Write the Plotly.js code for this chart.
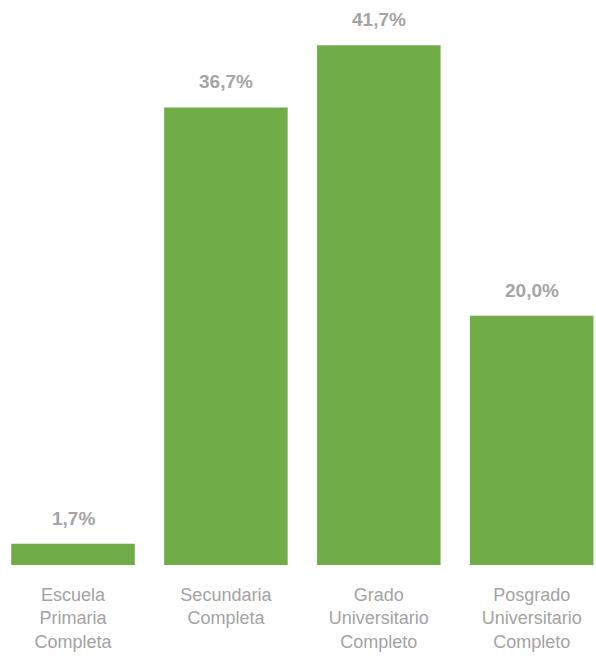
<!DOCTYPE html>
<html>
<head>
<meta charset="utf-8">
<script src="https://cdn.plot.ly/plotly-3.0.1.min.js"></script>
<style>html,body{margin:0;padding:0;background:#fff}#chart{width:596px;height:657px}</style>
</head>
<body>
<div id="chart"></div>
<script>
const categories = ["Escuela<br>Primaria<br>Completa", "Secundaria<br>Completa", "Grado<br>Universitario<br>Completo", "Posgrado<br>Universitario<br>Completo"];
const values = [1.7, 36.7, 41.7, 20.0];
const valueLabels = ["1,7%", "36,7%", "41,7%", "20,0%"];

const trace = {
  type: "bar",
  x: categories,
  y: values,
  width: 0.808,
  marker: {color: "#70AD47"},
  hoverinfo: "skip"
};

const annotations = categories.map((c, i) => ({
  x: c, y: values[i], xref: "x", yref: "y",
  text: "<b>" + valueLabels[i] + "</b>",
  showarrow: false, yanchor: "bottom", yshift: 13,
  font: {family: "Liberation Sans, Arial, sans-serif", size: 19, color: "#A5A5A5"}
}));

const layout = {
  width: 596, height: 657,
  margin: {l: 0, r: 0, t: 4, b: 92},
  paper_bgcolor: "#fff", plot_bgcolor: "#fff",
  showlegend: false,
  xaxis: {
    type: "category",
    range: [-0.4774, 3.4205],
    showgrid: false, zeroline: false, showline: false, ticks: "",
    ticklabelstandoff: 17,
    tickfont: {family: "Liberation Sans, Arial, sans-serif", size: 18, color: "#A3A3A3"},
    fixedrange: true
  },
  yaxis: {
    range: [0, 45],
    visible: false, showgrid: false, zeroline: false, fixedrange: true
  },
  annotations: annotations
};

Plotly.newPlot("chart", [trace], layout, {staticPlot: true, displayModeBar: false});
</script>
</body>
</html>
